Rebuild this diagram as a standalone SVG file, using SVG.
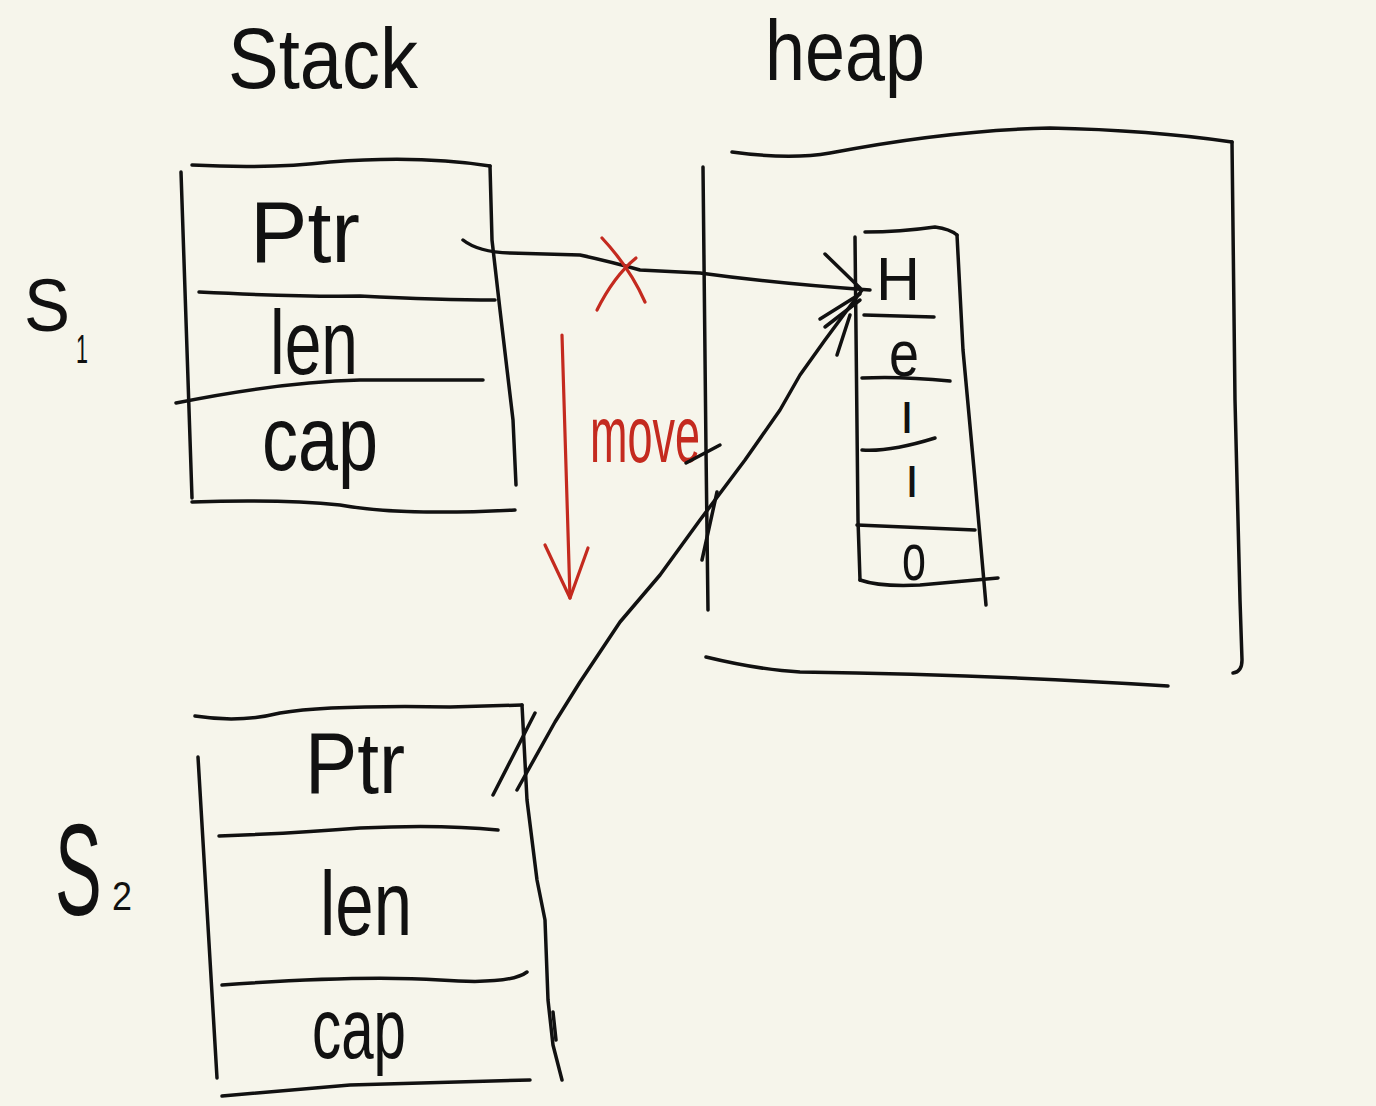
<svg xmlns="http://www.w3.org/2000/svg" width="1376" height="1106" viewBox="0 0 1376 1106">
<style>
.ln{fill:none;stroke:#111;stroke-width:3.5;stroke-linecap:round;stroke-linejoin:round}
.rd{fill:none;stroke:#c42a1f;stroke-width:3.2;stroke-linecap:round;stroke-linejoin:round}
.t{font-family:"Liberation Sans","DejaVu Sans",sans-serif;fill:#111}
.tr{font-family:"Liberation Sans","DejaVu Sans",sans-serif;fill:#c42a1f}
</style>
<rect width="1376" height="1106" fill="#f6f5eb"/>

<g id="titles">
<text class="t" x="228" y="88" font-size="86" textLength="190" lengthAdjust="spacingAndGlyphs">Stack</text>
<text class="t" x="765" y="80" font-size="86" textLength="160" lengthAdjust="spacingAndGlyphs">heap</text>
</g>

<g id="s1">
<path class="ln" d="M192,165 Q270,169 330,162 Q420,155 490,166"/>
<path class="ln" d="M181,172 L192,498"/>
<path class="ln" d="M490,166 L492,240 L500,310 L513,420 L516,485"/>
<path class="ln" d="M199,292 Q300,297 360,296 Q440,300 495,300"/>
<path class="ln" d="M176,403 Q280,382 360,380 L483,380"/>
<path class="ln" d="M192,502 Q280,499 340,505 Q400,516 515,510"/>
<text class="t" x="250" y="262" font-size="88" textLength="110" lengthAdjust="spacingAndGlyphs">Ptr</text>
<text class="t" x="270" y="374" font-size="90" textLength="88" lengthAdjust="spacingAndGlyphs">len</text>
<text class="t" x="262" y="470" font-size="90" textLength="116" lengthAdjust="spacingAndGlyphs">cap</text>
<text class="t" x="24" y="331" font-size="74" textLength="46" lengthAdjust="spacingAndGlyphs">S</text>
<text class="t" x="76" y="363" font-size="40" textLength="12" lengthAdjust="spacingAndGlyphs">1</text>
</g>

<g id="s2">
<path class="ln" d="M195,716 Q240,723 280,713 Q330,705 450,707 L522,705"/>
<path class="ln" d="M198,757 L217,1078"/>
<path class="ln" d="M522,705 L527,800 L537,880 L545,920 L548,1000 L553,1045 L562,1080"/>
<path class="ln" d="M553,1012 L556,1040"/>
<path class="ln" d="M219,836 Q300,833 360,828 Q440,824 498,830"/>
<path class="ln" d="M222,985 Q360,975 440,980 Q510,985 527,972"/>
<path class="ln" d="M222,1096 Q290,1090 350,1085 L530,1080"/>
<text class="t" x="305" y="793" font-size="88" textLength="100" lengthAdjust="spacingAndGlyphs">Ptr</text>
<text class="t" x="320" y="935" font-size="90" textLength="92" lengthAdjust="spacingAndGlyphs">len</text>
<text class="t" x="312" y="1058" font-size="86" textLength="94" lengthAdjust="spacingAndGlyphs">cap</text>
<text class="t" transform="translate(55,915) scale(1,1.85)" font-size="70">S</text>
<text class="t" x="112" y="910" font-size="40" textLength="20" lengthAdjust="spacingAndGlyphs">2</text>
</g>

<g id="heap">
<path class="ln" d="M732,152 Q790,160 830,153 Q950,130 1050,128 Q1150,130 1232,142"/>
<path class="ln" d="M1232,142 L1235,400 L1240,600 L1242,660 Q1242,672 1233,673"/>
<path class="ln" d="M706,657 Q760,670 800,672 Q1000,675 1168,686"/>
<path class="ln" d="M703,167 L706,450 L708,610"/>
</g>

<g id="heap-array">
<path class="ln" d="M855,237 L858,520 L860,580"/>
<path class="ln" d="M865,232 Q900,232 935,227 Q950,229 957,235"/>
<path class="ln" d="M957,235 L963,350 L975,480 L986,605"/>
<path class="ln" d="M864,315 L934,317"/>
<path class="ln" d="M862,378 Q900,376 950,381"/>
<path class="ln" d="M862,450 Q890,452 935,438"/>
<path class="ln" d="M857,525 L975,530"/>
<path class="ln" d="M860,580 Q880,587 920,585 L998,578"/>
<text class="t" x="876" y="300" font-size="62" textLength="44" lengthAdjust="spacingAndGlyphs">H</text>
<text class="t" x="889" y="376" font-size="64" textLength="30" lengthAdjust="spacingAndGlyphs">e</text>
<text class="t" x="901" y="433" font-size="42" textLength="12" lengthAdjust="spacingAndGlyphs">l</text>
<text class="t" x="906" y="497" font-size="42" textLength="12" lengthAdjust="spacingAndGlyphs">l</text>
<text class="t" x="902" y="580" font-size="66" textLength="24" lengthAdjust="spacingAndGlyphs">o</text>
</g>

<g id="move">
<path class="rd" d="M562,335 L570,598"/>
<path class="rd" d="M545,545 L570,598 L588,548"/>
<text class="tr" x="590" y="462" font-size="80" textLength="110" lengthAdjust="spacingAndGlyphs">move</text>
</g>

<g id="connectors">
<path class="ln" d="M463,240 Q478,252 510,253 L580,255 Q612,262 640,270 L700,273 Q780,284 870,290"/>
<path class="ln" d="M825,254 L860,288"/>
<path class="ln" d="M517,790 L555,722 L580,682 L620,622 L660,575 L700,520 L745,460 L780,410 L800,375 L825,340 L862,290"/>
<path class="ln" d="M493,795 L535,713"/>
<path class="ln" d="M820,319 L860,294"/>
<path class="ln" d="M825,327 L860,300"/>
<path class="ln" d="M837,355 L850,315"/>
<path class="ln" d="M686,463 L720,445"/>
<path class="ln" d="M702,560 L717,492"/>
<path class="rd" d="M602,238 Q630,268 645,302"/>
<path class="rd" d="M636,258 Q614,276 597,310"/>
</g>
</svg>
